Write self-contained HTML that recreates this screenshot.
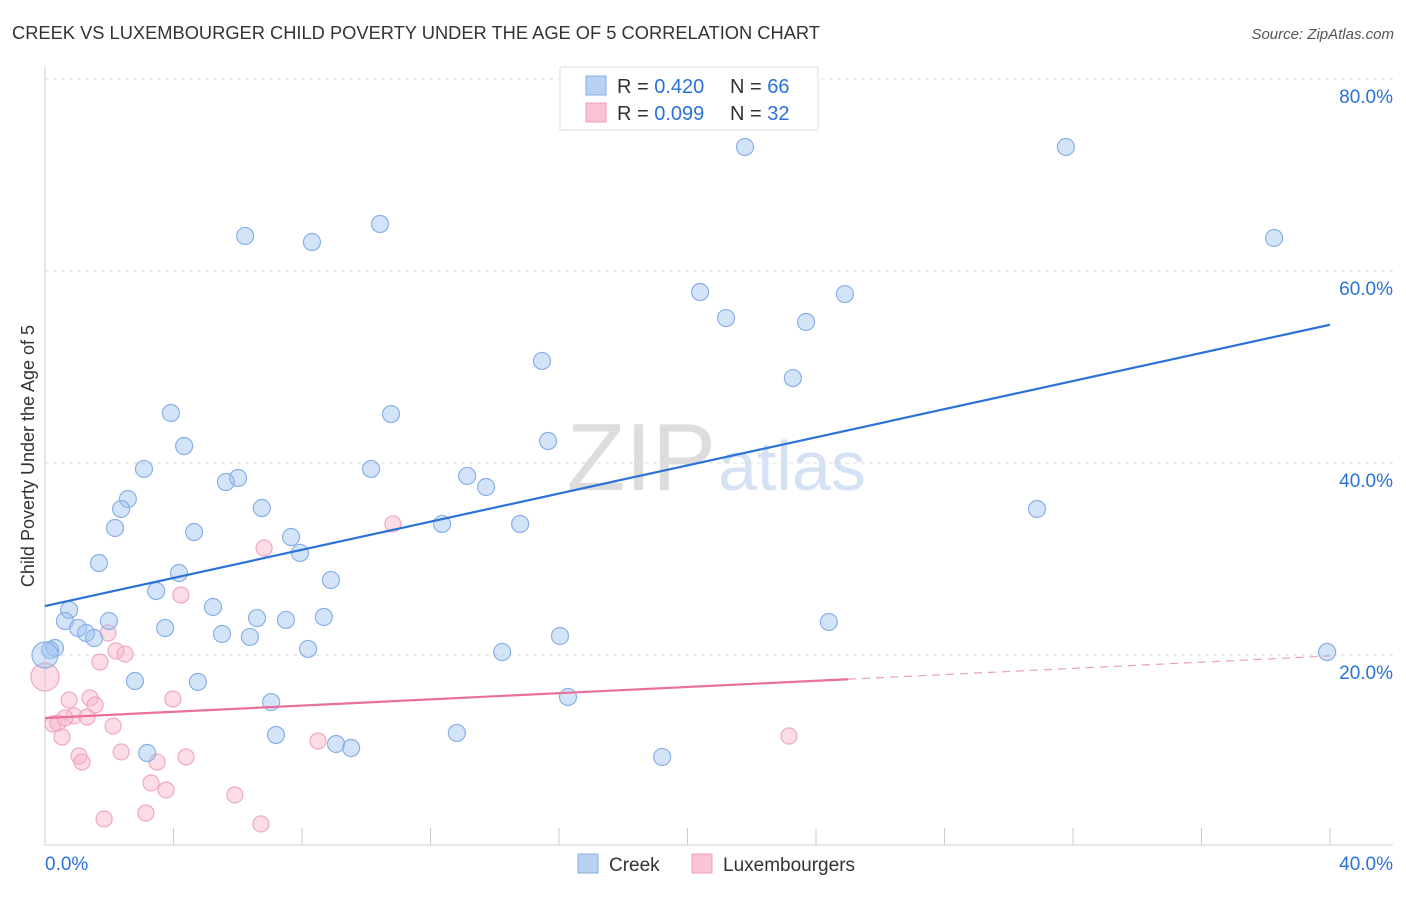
<!DOCTYPE html>
<html><head><meta charset="utf-8"><style>
body{margin:0;background:#fff;font-family:"Liberation Sans",sans-serif;}
svg text{font-family:"Liberation Sans",sans-serif;}
</style></head><body>
<svg id="chart" width="1406" height="892" viewBox="0 0 1406 892" xmlns="http://www.w3.org/2000/svg">
<text x="12" y="39" font-size="18.3" fill="#333">CREEK VS LUXEMBOURGER CHILD POVERTY UNDER THE AGE OF 5 CORRELATION CHART</text>
<text x="1394" y="39" font-size="15" fill="#555" text-anchor="end" font-style="italic">Source: ZipAtlas.com</text>
<text x="716" y="490" font-size="96" fill="#ddd" text-anchor="end" font-family="Liberation Serif">ZIP</text>
<text x="718" y="490" font-size="70" fill="#d4e2f4">atlas</text>
<g id="grid"></g>
<g id="axes"></g>
<g id="marks"></g>
<text transform="translate(34,456) rotate(-90)" font-size="18" fill="#333" text-anchor="middle">Child Poverty Under the Age of 5</text>
<g>
<rect x="560" y="67" width="258" height="63" fill="#fff" stroke="#ddd"/>
<rect x="586" y="76" width="20" height="19" fill="#b7d0f3" stroke="#8ab0e6"/>
<rect x="586" y="103" width="20" height="19" fill="#fac4d4" stroke="#f0a0b8"/>
<text x="617" y="93" font-size="20" fill="#333">R = <tspan fill="#2a72d8">0.420</tspan></text>
<text x="730" y="93" font-size="20" fill="#333">N = <tspan fill="#2a72d8">66</tspan></text>
<text x="617" y="120" font-size="20" fill="#333">R = <tspan fill="#2a72d8">0.099</tspan></text>
<text x="730" y="120" font-size="20" fill="#333">N = <tspan fill="#2a72d8">32</tspan></text>
</g>
<g>
<rect x="578" y="854" width="20" height="19" fill="#b7d0f3" stroke="#8ab0e6"/>
<text x="609" y="871" font-size="19" fill="#333">Creek</text>
<rect x="692" y="854" width="20" height="19" fill="#fac4d4" stroke="#f0a0b8"/>
<text x="723" y="871" font-size="19" fill="#333">Luxembourgers</text>
</g>
</svg>
<script>
const xTicks=[0,5,10,15,20,25,30,35,40];
const yTicks=[20,40,60,80];
const yTickLabels=["20.0%","40.0%","60.0%","80.0%"];
const creekX=[21.79,31.78,38.26,6.23,8.31,10.43,20.39,24.90,21.20,23.69,15.47,23.28,3.92,10.77,4.33,15.66,3.08,10.15,6.01,5.63,13.14,13.73,2.58,2.37,6.75,2.18,4.64,12.36,14.79,7.66,30.88,7.94,1.68,4.17,8.90,3.46,5.23,0.75,6.60,7.50,8.68,0.62,1.99,1.03,3.74,24.40,5.51,6.38,16.03,1.28,1.53,0.31,0.16,8.19,14.23,39.91,2.80,4.76,16.28,7.04,7.19,12.82,3.18,9.06,9.53,19.21];
const creekY=[72.92,72.92,63.44,63.65,63.02,64.90,57.81,57.60,55.10,54.69,50.63,48.85,45.21,45.10,41.77,42.29,39.38,39.38,38.44,38.02,38.65,37.50,36.25,35.21,35.31,33.23,32.81,33.65,33.65,32.29,35.21,30.63,29.58,28.54,27.81,26.67,25.0,24.69,23.85,23.65,23.96,23.54,23.54,22.81,22.81,23.44,22.19,21.88,21.98,22.29,21.77,20.73,20.52,20.63,20.31,20.31,17.29,17.19,15.63,15.10,11.67,11.88,9.79,10.73,10.31,9.38];
const luxX=[0,0.25,0.40,0.53,0.75,0.90,0.62,1.31,1.40,1.56,1.71,1.96,2.12,2.21,2.49,1.06,1.15,2.37,1.84,3.14,3.30,3.49,3.77,3.98,4.23,4.39,5.91,6.72,6.82,8.50,10.83,23.16];
const luxY=[17.71,12.81,12.92,11.46,15.31,13.65,13.44,13.54,15.52,14.79,19.27,22.29,12.60,20.42,20.10,9.48,8.85,9.90,2.92,3.54,6.67,8.85,5.94,15.42,26.25,9.38,5.42,2.40,31.15,11.04,33.65,11.56];
const creekTrend=[25.1,54.4];
const luxTrend=[13.44,19.9];
const luxSolidEnd=25;
const NS="http://www.w3.org/2000/svg";
const xs=v=>45+v*32.125, ys=v=>847-v*9.6;
function mk(tag,attrs,parent){const e=document.createElementNS(NS,tag);for(const k in attrs)e.setAttribute(k,attrs[k]);parent.appendChild(e);return e;}
const grid=document.getElementById('grid'),axes=document.getElementById('axes'),marks=document.getElementById('marks');
yTicks.forEach((t,i)=>{
 const l=mk('line',{x1:45,x2:1393,y1:ys(t),y2:ys(t),stroke:'#ddd','stroke-dasharray':'4,4'},grid);
 
 
 const tx=mk('text',{x:1393,y:ys(t)+24,'font-size':19,fill:'#2a72d8','text-anchor':'end'},axes);
 tx.textContent=yTickLabels[i];
 
 
});
const ax=mk('line',{x1:45,x2:1393,y1:845,y2:845,stroke:'#ccc'},axes);


const ay=mk('line',{x1:45,x2:45,y1:67,y2:845,stroke:'#ccc'},axes);


for(let i=0;i<=10;i++){const v=i*4;const t=mk('line',{x1:xs(v),x2:xs(v),y1:828,y2:845,stroke:'#ccc'},axes);
 
 }
[[0,"0.0%","start",45],[40,"40.0%","end",1393]].forEach(a=>{const t=mk('text',{x:a[3],y:870,'font-size':19,fill:'#2a72d8','text-anchor':a[2]},axes);t.textContent=a[1];
 
 });
luxX.forEach((x,i)=>{const c=mk('circle',{cx:xs(x),cy:ys(luxY[i]),r:i===0?14:8,fill:'rgba(248,180,200,0.45)',stroke:'#f0a8bf','stroke-width':1.2},marks);
 
 });
creekX.forEach((x,i)=>{const c=mk('circle',{cx:xs(x),cy:ys(creekY[i]),r:8.5,fill:'rgba(160,195,240,0.45)',stroke:'#8ab0e6','stroke-width':1.2},marks);
 
 });
const big=mk('circle',{cx:xs(0),cy:ys(20),r:13,fill:'rgba(160,195,240,0.45)',stroke:'#8ab0e6','stroke-width':1.2},marks);


const bl=mk('line',{x1:xs(0),y1:ys(creekTrend[0]),x2:xs(40),y2:ys(creekTrend[1]),stroke:'#2a72d8','stroke-width':2.2},marks);


const ly=v=>luxTrend[0]+(luxTrend[1]-luxTrend[0])*v/40;
const pl=mk('line',{x1:xs(0),y1:ys(luxTrend[0]),x2:xs(luxSolidEnd),y2:ys(ly(luxSolidEnd)),stroke:'#e8709a','stroke-width':2.2},marks);


const pd=mk('line',{x1:xs(luxSolidEnd),y1:ys(ly(luxSolidEnd)),x2:xs(40),y2:ys(luxTrend[1]),stroke:'#e8a0b8','stroke-width':1.2,'stroke-dasharray':'8,6'},marks);


</script>
</body></html>
